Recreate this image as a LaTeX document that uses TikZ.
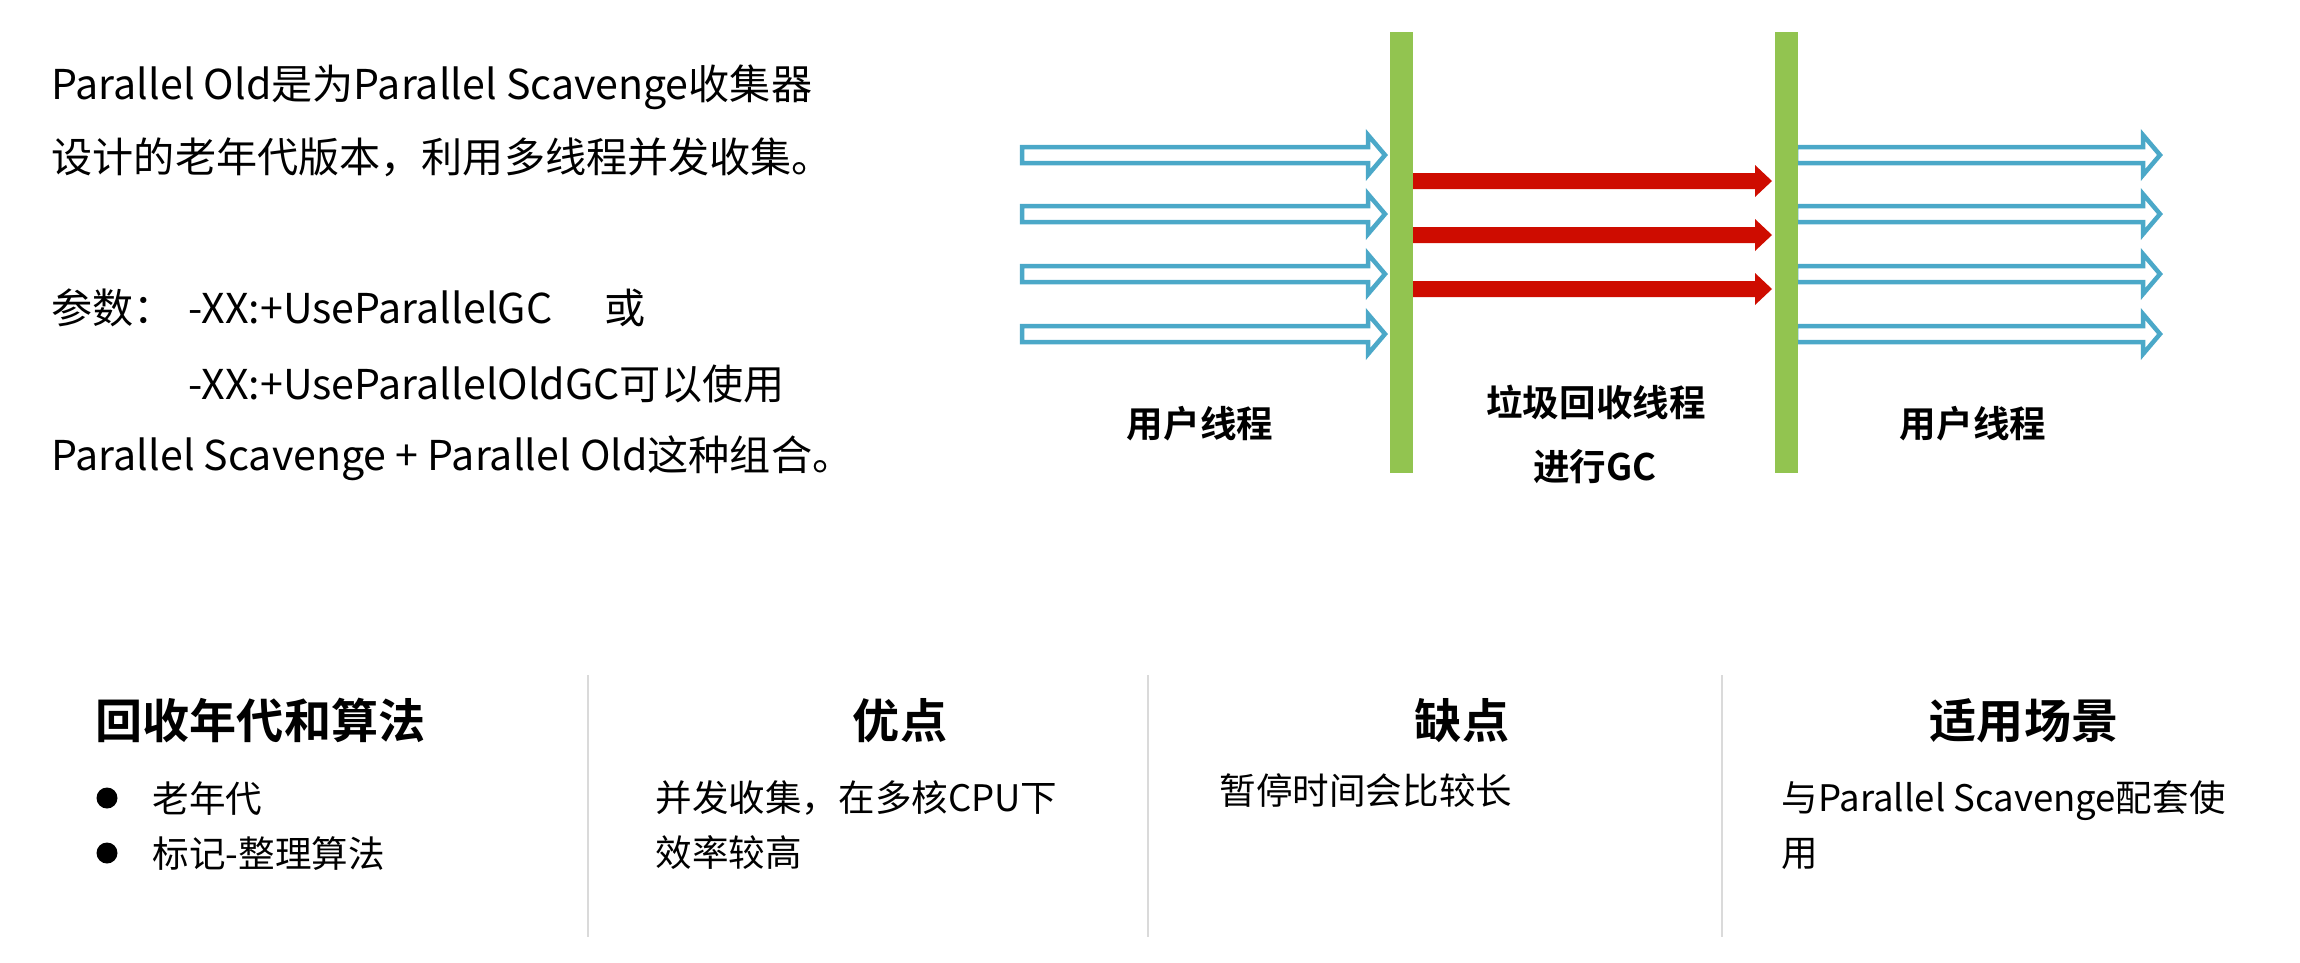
\documentclass[tikz,border=0pt]{standalone}
\usepackage{fontspec}
\setmainfont{Noto Sans CJK SC}[BoldFont={Noto Sans CJK SC Bold}]
\definecolor{barGreen}{RGB}{146,196,80}
\definecolor{arrBlue}{RGB}{75,168,200}
\definecolor{arrRed}{RGB}{206,12,0}
\definecolor{divGray}{RGB}{218,218,218}
\begin{document}
\begin{tikzpicture}[x=0.1mm,y=-0.1mm,
  body/.style={anchor=base west,inner sep=0pt,font=\fontsize{11.7}{13}\selectfont},
  sbody/.style={anchor=base west,inner sep=0pt,font=\fontsize{10.4}{12}\selectfont},
  head/.style={anchor=base,inner sep=0pt,font=\fontsize{13.4}{15}\selectfont\bfseries},
  lab/.style={anchor=base,inner sep=0pt,font=\fontsize{10.4}{12}\selectfont\bfseries},
  dot/.style={circle,fill=black,inner sep=0pt,minimum size=2.1mm},
  hollow/.style={draw=arrBlue,fill=white,line width=0.45mm,line join=miter},
  solid/.style={fill=arrRed},
  divider/.style={draw=divGray,line width=0.2mm},
  bar/.style={fill=barGreen}]
\useasboundingbox (0,0) rectangle (2300,963);

% left text
\node[body] (t1) at (51,99) {Parallel Old是为Parallel Scavenge收集器};
\node[body] (t2) at (51,172) {设计的老年代版本，利用多线程并发收集。};
\node[body] (t3a) at (51,323) {参数：};
\node[body] (t3b) at (188,323) {-XX:+UseParallelGC};
\node[body] (t3c) at (604,323) {或};
\node[body] (t4) at (188,399) {-XX:+UseParallelOldGC可以使用};
\node[body] (t5) at (51,470) {Parallel Scavenge + Parallel Old这种组合。};

% blue arrows (user threads)
\foreach \c in {155,214,274,334} {
  \draw[hollow] (1022,\c-8) -- (1368,\c-8) -- (1368,\c-20) -- (1385,\c)
     -- (1368,\c+20) -- (1368,\c+8) -- (1022,\c+8) -- cycle;
  \draw[hollow] (1796,\c-8) -- (2143,\c-8) -- (2143,\c-20) -- (2160,\c)
     -- (2143,\c+20) -- (2143,\c+8) -- (1796,\c+8) -- cycle;
}
% red arrows (GC threads)
\foreach \c in {181,235,289} {
  \fill[solid] (1409,\c-8) -- (1755,\c-8) -- (1755,\c-16) -- (1772,\c)
     -- (1755,\c+16) -- (1755,\c+8) -- (1409,\c+8) -- cycle;
}
% green bars
\fill[bar] (1390,32) rectangle (1413,473);
\fill[bar] (1775,32) rectangle (1798,473);

% diagram labels
\node[lab] (u1) at (1200,437) {用户线程};
\node[lab] (g1) at (1596,416) {垃圾回收线程};
\node[lab] (g2) at (1595,480) {进行GC};
\node[lab] (u2) at (1973,437) {用户线程};

% bottom table
\draw[divider] (588,675) -- (588,937);
\draw[divider] (1148,675) -- (1148,937);
\draw[divider] (1722,675) -- (1722,937);

\node[head,anchor=base west] (h1) at (95,738) {回收年代和算法};
\node[head] (h2) at (900,738) {优点};
\node[head] (h3) at (1462,738) {缺点};
\node[head] (h4) at (2024,738) {适用场景};

\node[dot] (d1) at (107,798) {};
\node[dot] (d2) at (107,853) {};
\node[sbody] (b1) at (152,812) {老年代};
\node[sbody] (b2) at (152,867) {标记-整理算法};
\node[sbody] (p1) at (655,811) {并发收集，在多核CPU下};
\node[sbody] (p2) at (655,866) {效率较高};
\node[sbody] (c1) at (1219,804) {暂停时间会比较长};
\node[sbody] (s1) at (1781,811) {与Parallel Scavenge配套使};
\node[sbody] (s2) at (1781,866) {用};
\end{tikzpicture}
\end{document}
